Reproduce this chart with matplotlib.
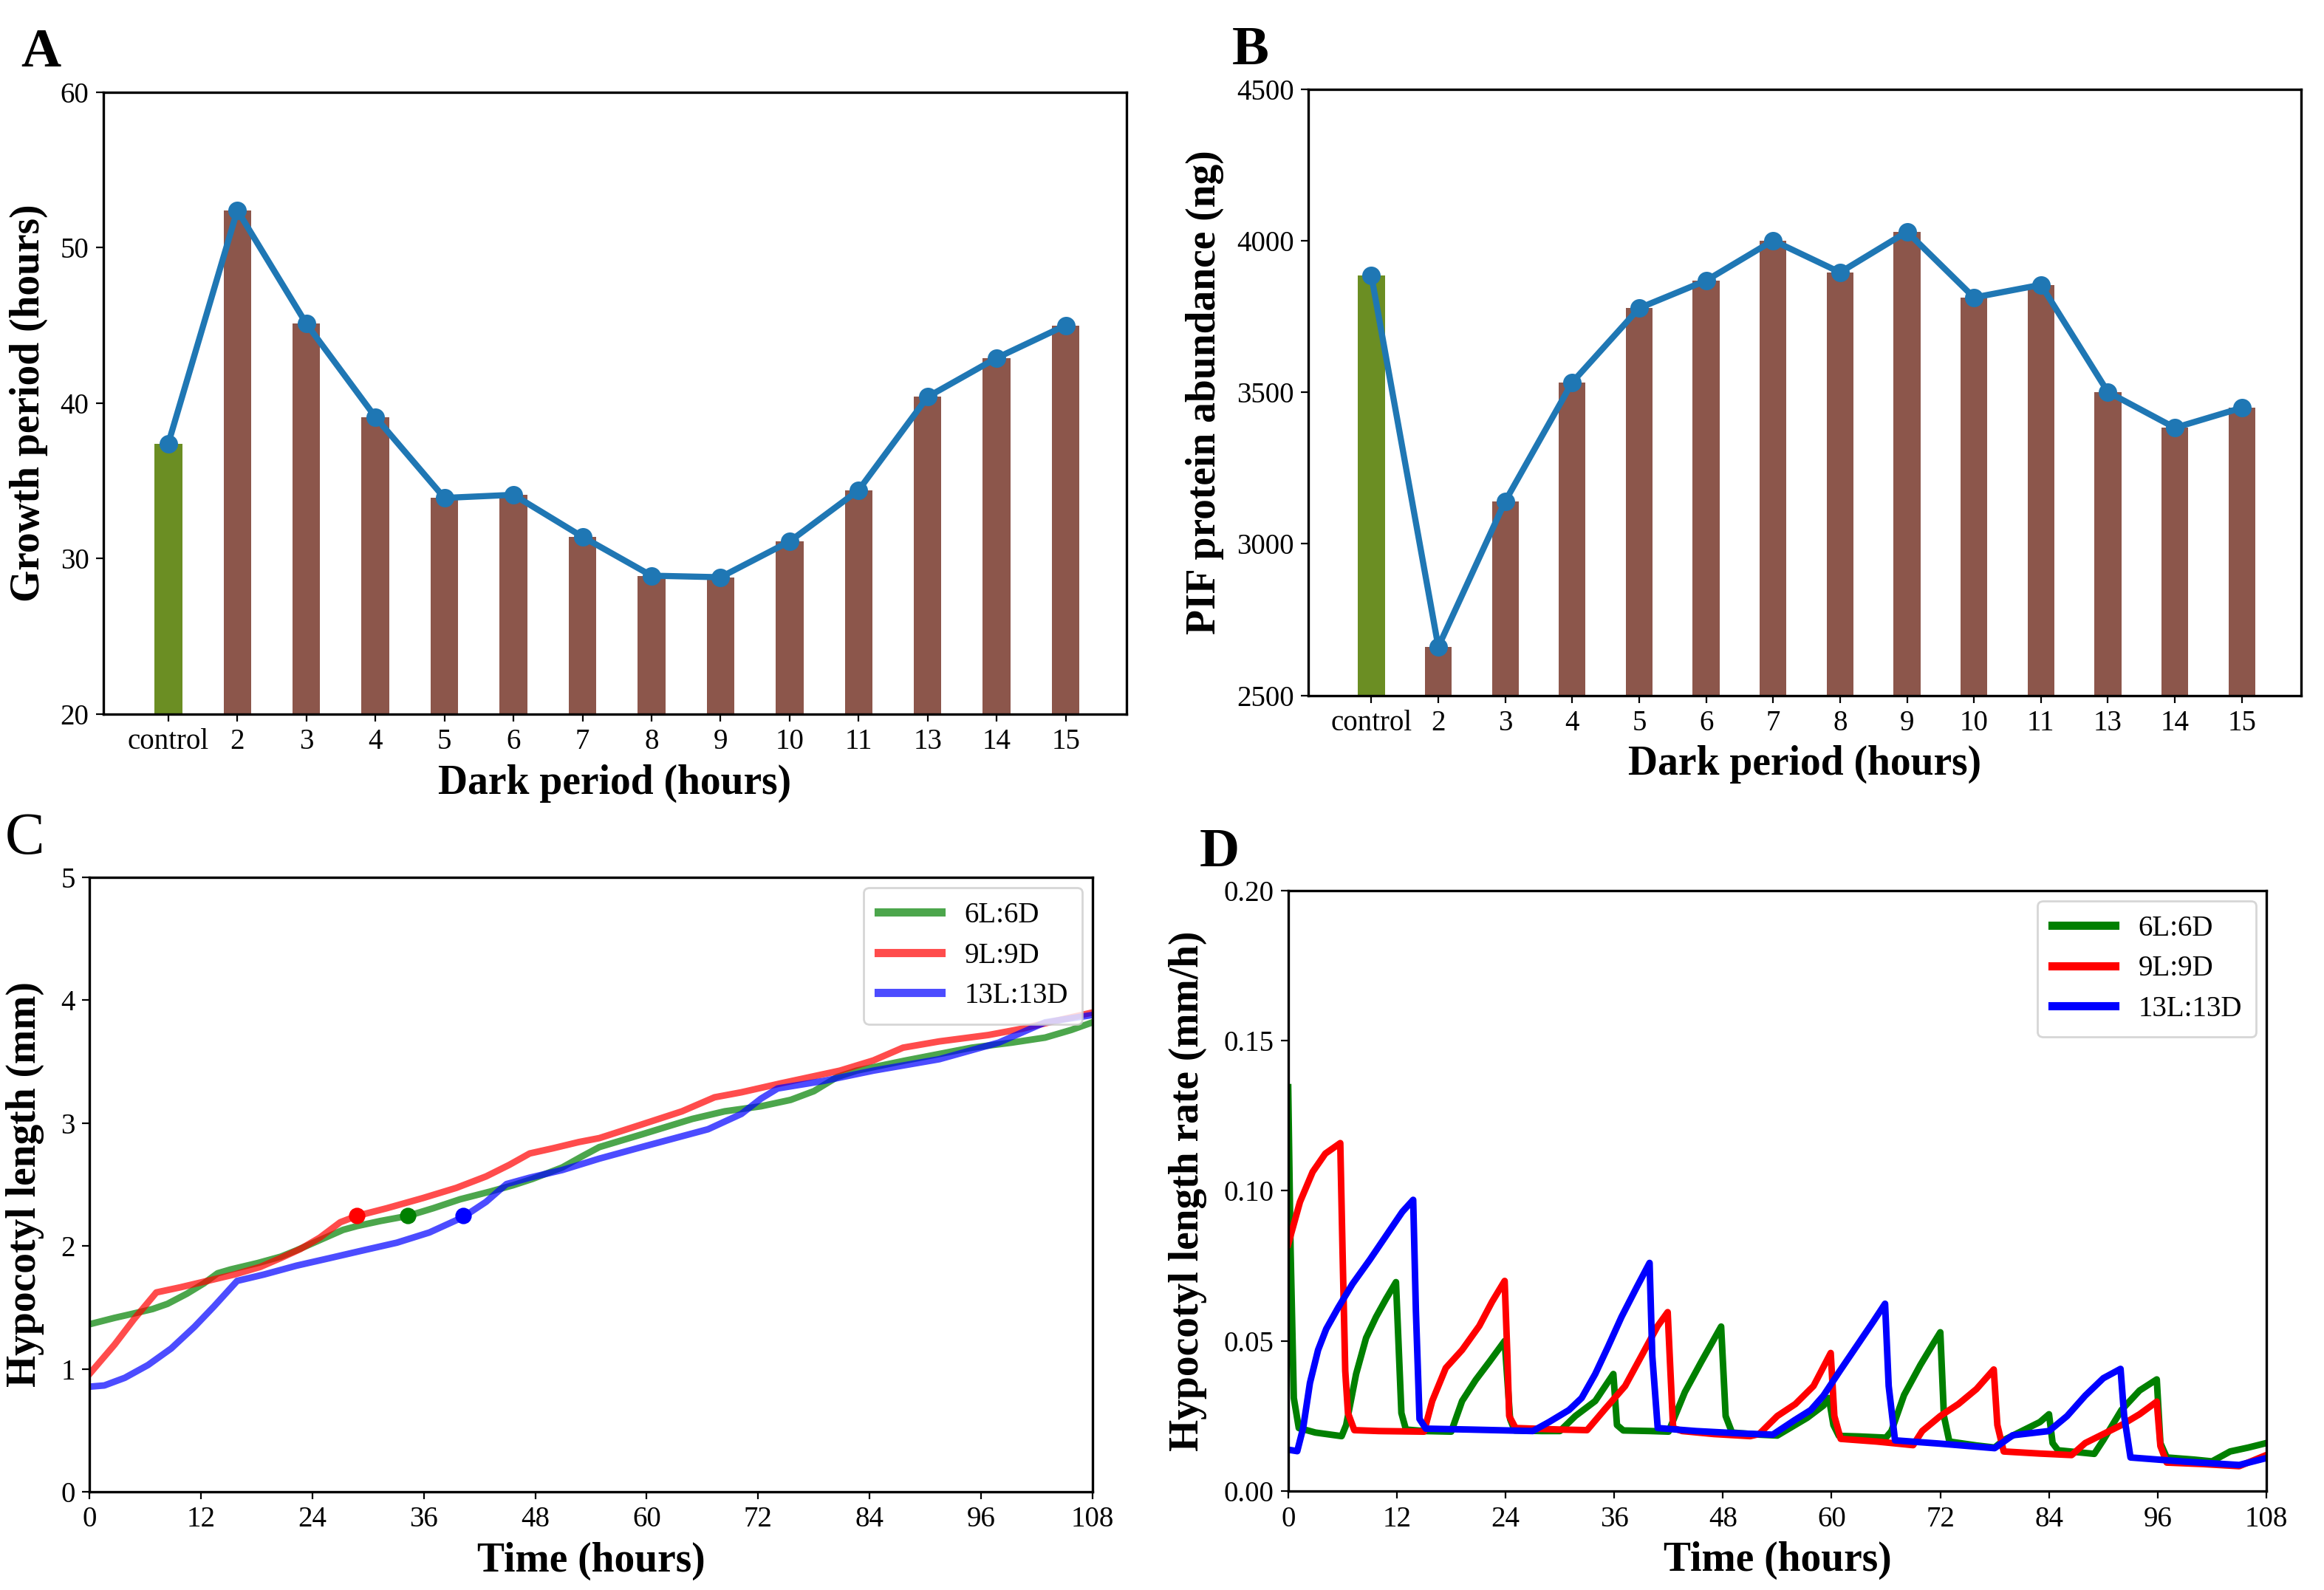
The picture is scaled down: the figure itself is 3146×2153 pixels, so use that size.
import matplotlib
matplotlib.use('Agg')
import matplotlib.pyplot as plt

plt.rcParams['font.family'] = ['Liberation Serif', 'DejaVu Serif']
plt.rcParams['axes.linewidth'] = 1.2

# Panel A / B: dark period categories
categories = ['control', '2', '3', '4', '5', '6', '7', '8', '9', '10', '11', '13', '14', '15']
growth_period = [37.4, 52.4, 45.1, 39.1, 33.9, 34.1, 31.4, 28.9, 28.8, 31.1, 34.4, 40.4, 42.9, 45.0]
pif_abundance = [3885, 2660, 3141, 3533, 3778, 3869, 4001, 3896, 4030, 3813, 3855, 3501, 3383, 3449]

# Panel C: hypocotyl length (mm)
c_t_6 = [0, 2.7, 4.5, 6.8, 8.4, 10.5, 12.3, 13.8, 15.2, 18.1, 20.6, 22.3, 24.8, 27.3, 28.8, 31.3,
         34.3, 37, 39.9, 43.1, 45.6, 47.7, 50.9, 53.1, 54.9, 59.5, 64.9, 68.4, 72.3, 75.5, 78,
         80.5, 82.6, 87.9, 95, 99.3, 102.9, 105.7, 108]
c_v_6 = [1.363, 1.415, 1.446, 1.487, 1.529, 1.612, 1.695, 1.778, 1.809, 1.861, 1.913, 1.965,
         2.048, 2.131, 2.162, 2.203, 2.245, 2.307, 2.38, 2.442, 2.494, 2.546, 2.639, 2.732,
         2.805, 2.909, 3.034, 3.096, 3.137, 3.189, 3.26, 3.375, 3.427, 3.51, 3.614, 3.655,
         3.696, 3.758, 3.82]
c_t_9 = [0, 2.7, 4.8, 7.2, 9.8, 12.7, 15.6, 18.4, 20.6, 22.7, 24.8, 27, 28.8, 32, 35.9, 39.5,
         42.7, 45.2, 47.4, 49.9, 52.7, 54.9, 59.5, 63.8, 67.3, 70.2, 74.4, 80.8, 84.4, 87.6,
         91.5, 96.8, 100.4, 103.9, 108]
c_v_9 = [0.958, 1.197, 1.405, 1.622, 1.664, 1.716, 1.768, 1.83, 1.902, 1.975, 2.068, 2.193,
         2.245, 2.307, 2.39, 2.473, 2.566, 2.66, 2.753, 2.795, 2.846, 2.878, 2.99, 3.096, 3.21,
         3.251, 3.323, 3.427, 3.51, 3.614, 3.665, 3.717, 3.768, 3.83, 3.9]
c_t_13 = [0, 1.6, 3.8, 6.3, 8.8, 11.3, 13.4, 15.9, 18.8, 22.3, 25.9, 29.5, 33.1, 36.6, 40.2,
          42.7, 44.9, 47.4, 50.9, 54.9, 59.5, 66.6, 70.2, 72.3, 74.1, 79.1, 84.4, 91.5, 97.9,
          102.9, 108]
c_v_13 = [0.855, 0.865, 0.927, 1.031, 1.166, 1.342, 1.508, 1.716, 1.768, 1.84, 1.902, 1.965,
          2.027, 2.11, 2.234, 2.359, 2.504, 2.556, 2.618, 2.711, 2.806, 2.95, 3.075, 3.199,
          3.282, 3.344, 3.427, 3.52, 3.655, 3.82, 3.88]
# marked points on the curves
c_mark_t = [34.3, 28.8, 40.2]
c_mark_v = [2.245, 2.245, 2.245]

# Panel D: hypocotyl length rate (mm/h)
d_t_6 = [0, 0.26, 0.62, 1.17, 3, 5.9, 6.4, 7.5, 8.6, 9.7, 10.8, 11.9, 12.5, 13, 15, 18, 19.2,
         20.7, 22.2, 23.9, 24.5, 25, 28, 30, 31.7, 33.9, 35.9, 36.3, 37, 40, 42, 43.8, 45.6,
         47.8, 48.3, 49, 52, 54, 57.3, 59.1, 59.7, 60.2, 60.8, 63, 66, 66.6, 68, 69.8, 71.2,
         72, 72.4, 73, 76, 78, 79, 81, 83, 84, 84.4, 85, 87, 89, 90, 92, 94, 95.9, 96.3, 97,
         100, 102, 104, 106, 108]
d_v_6 = [0.1345, 0.081, 0.031, 0.021, 0.0195, 0.0183, 0.022, 0.039, 0.051, 0.058, 0.064,
         0.0696, 0.026, 0.0205, 0.020, 0.0198, 0.030, 0.037, 0.043, 0.050, 0.024, 0.0202,
         0.020, 0.0200, 0.025, 0.030, 0.039, 0.022, 0.0202, 0.020, 0.0198, 0.033, 0.043,
         0.0548, 0.025, 0.0195, 0.0188, 0.0185, 0.0244, 0.0285, 0.031, 0.022, 0.0184, 0.0182,
         0.0178, 0.020, 0.032, 0.042, 0.049, 0.0529, 0.025, 0.0165, 0.0152, 0.0145, 0.017,
         0.020, 0.023, 0.0256, 0.016, 0.0136, 0.013, 0.0124, 0.017, 0.027, 0.0335, 0.0372,
         0.016, 0.0112, 0.0105, 0.0099, 0.0132, 0.0145, 0.016]
d_t_9 = [0, 1.3, 2.7, 4.1, 5.75, 6.0, 6.3, 6.6, 7.3, 10, 15, 15.9, 17.4, 19.2, 21.1, 22.5,
         23.9, 24.2, 24.4, 25.1, 30, 33, 35, 37.2, 39, 40.8, 41.9, 42.2, 42.5, 43.5, 47, 51,
         52, 54, 56, 58, 59.9, 60.3, 61, 65, 69, 70, 72, 74, 76, 77.9, 78.3, 79, 83, 86.5, 88,
         90, 92, 94, 95.9, 96.3, 97, 101, 105, 108]
d_v_9 = [0.0822, 0.0963, 0.1063, 0.1124, 0.1159, 0.080, 0.040, 0.026, 0.0203, 0.020, 0.0198,
         0.030, 0.041, 0.047, 0.055, 0.063, 0.070, 0.045, 0.025, 0.021, 0.0205, 0.0203,
         0.0274, 0.035, 0.045, 0.055, 0.0596, 0.040, 0.021, 0.020, 0.019, 0.0183, 0.019,
         0.025, 0.029, 0.035, 0.046, 0.025, 0.0174, 0.0165, 0.0153, 0.020, 0.025, 0.029,
         0.034, 0.0405, 0.022, 0.0132, 0.0125, 0.012, 0.016, 0.019, 0.022, 0.0256, 0.0298,
         0.015, 0.0095, 0.009, 0.0083, 0.012]
d_t_13 = [0, 1, 1.65, 2.4, 3.3, 4.2, 5.5, 7.1, 9, 10.8, 12.6, 13.8, 14.1, 14.5, 15.2, 20, 27,
          28.8, 31, 32.4, 33.9, 35.3, 36.8, 38.5, 39.9, 40.2, 40.8, 45, 50, 53.5, 55.9, 57.7,
          59.1, 60.9, 62.7, 64.5, 65.9, 66.3, 67, 72, 78, 80, 84, 86, 88, 90, 91.9, 92.3, 93,
          99, 105, 108]
d_v_13 = [0.0138, 0.0133, 0.021, 0.036, 0.047, 0.054, 0.061, 0.069, 0.077, 0.085, 0.093,
          0.097, 0.060, 0.024, 0.0208, 0.0205, 0.020, 0.023, 0.027, 0.031, 0.039, 0.048,
          0.058, 0.068, 0.076, 0.045, 0.021, 0.020, 0.0192, 0.0188, 0.0236, 0.027, 0.0318,
          0.040, 0.048, 0.056, 0.0624, 0.035, 0.0169, 0.0158, 0.0143, 0.0186, 0.020, 0.025,
          0.0318, 0.0376, 0.0407, 0.025, 0.0112, 0.0098, 0.0087, 0.011]

series_labels = ['6L:6D', '9L:9D', '13L:13D']
time_ticks = [0, 12, 24, 36, 48, 60, 72, 84, 96, 108]

TICK = 14
LABEL = 20

fig = plt.figure(figsize=(15.73, 10.765), dpi=200)
axA = fig.add_axes([0.0445, 0.5509, 0.4402, 0.3912])
axB = fig.add_axes([0.563, 0.5627, 0.427, 0.3811])
axC = fig.add_axes([0.0385, 0.0618, 0.4316, 0.3864])
axD = fig.add_axes([0.5543, 0.0622, 0.4209, 0.3777])


def bar_panel(ax, values, ylim, yticks, ylabel):
    x = list(range(len(categories)))
    colors = ['#6b8e23'] + ['#8c564b'] * (len(categories) - 1)
    ax.bar(x, values, width=0.4, color=colors, zorder=1)
    ax.plot(x, values, color='#1f77b4', lw=3, marker='o', ms=8, zorder=2)
    ax.set_xlim(-0.94, 13.88)
    ax.set_ylim(*ylim)
    ax.set_yticks(yticks)
    ax.set_xticks(x)
    ax.set_xticklabels(categories)
    ax.tick_params(labelsize=TICK)
    ax.set_xlabel('Dark period (hours)', fontsize=LABEL, fontweight='bold', labelpad=4)
    ax.set_ylabel(ylabel, fontsize=LABEL, fontweight='bold', labelpad=6)


def add_legend(ax):
    leg = ax.legend(loc='upper right', fontsize=14, handlelength=2.2, borderpad=0.5,
                    labelspacing=0.45, borderaxespad=0.35)
    for h in leg.get_lines():
        h.set_linewidth(4)


bar_panel(axA, growth_period, (20, 60), [20, 30, 40, 50, 60], 'Growth period (hours)')
bar_panel(axB, pif_abundance, (2500, 4500), [2500, 3000, 3500, 4000, 4500],
          'PIF protein abundance (ng)')

# Panel C
axC.plot(c_t_6, c_v_6, color='green', alpha=0.7, lw=3.2, label=series_labels[0])
axC.plot(c_t_9, c_v_9, color='red', alpha=0.7, lw=3.2, label=series_labels[1])
axC.plot(c_t_13, c_v_13, color='blue', alpha=0.7, lw=3.2, label=series_labels[2])
for t, v, col in zip(c_mark_t, c_mark_v, ['green', 'red', 'blue']):
    axC.plot(t, v, 'o', color=col, ms=7, zorder=5)
axC.set_xlim(0, 108)
axC.set_ylim(0, 5)
axC.set_xticks(time_ticks)
axC.set_yticks([0, 1, 2, 3, 4, 5])
axC.tick_params(labelsize=TICK)
axC.set_xlabel('Time (hours)', fontsize=LABEL, fontweight='bold', labelpad=4)
axC.set_ylabel('Hypocotyl length (mm)', fontsize=LABEL, fontweight='bold', labelpad=8)
add_legend(axC)

# Panel D
axD.plot(d_t_6, d_v_6, color='green', lw=3.2, label=series_labels[0])
axD.plot(d_t_9, d_v_9, color='red', lw=3.2, label=series_labels[1])
axD.plot(d_t_13, d_v_13, color='blue', lw=3.2, label=series_labels[2])
axD.set_xlim(0, 108)
axD.set_ylim(0, 0.2)
axD.set_xticks(time_ticks)
axD.set_yticks([0, 0.05, 0.1, 0.15, 0.2])
axD.set_yticklabels(['0.00', '0.05', '0.10', '0.15', '0.20'])
axD.tick_params(labelsize=TICK)
axD.set_xlabel('Time (hours)', fontsize=LABEL, fontweight='bold', labelpad=4)
axD.set_ylabel('Hypocotyl length rate (mm/h)', fontsize=LABEL, fontweight='bold', labelpad=8)
add_legend(axD)

# panel letters
fig.text(0.009, 0.9582, 'A', fontsize=27, fontweight='bold', va='baseline')
fig.text(0.530, 0.9596, 'B', fontsize=27, fontweight='bold', va='baseline')
fig.text(0.002, 0.4632, 'C', fontsize=29, va='baseline')
fig.text(0.516, 0.4552, 'D', fontsize=27, fontweight='bold', va='baseline')

fig.savefig('out.png', dpi=200)
